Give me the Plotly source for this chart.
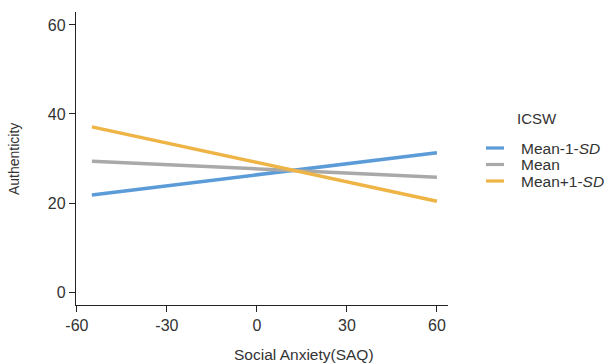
import plotly.graph_objects as go

saq = [-55, 60]
groups = ["Mean-1-<i>SD</i>", "Mean", "Mean+1-<i>SD</i>"]
low_sd = [21.8, 31.3]
mean_vals = [29.4, 25.8]
high_sd = [37.1, 20.4]
colors = ["#5B9BD8", "#A9A9A9", "#EEB446"]
legend_title = "ICSW"

x_ticks = [-60, -30, 0, 30, 60]
y_ticks = [0, 20, 40, 60]

fig = go.Figure()
for name, vals, c in zip(groups, [low_sd, mean_vals, high_sd], colors):
    fig.add_trace(go.Scatter(x=saq, y=vals, mode="lines", name=name, showlegend=False,
                             line=dict(color=c, width=3.5)))

W, H = 607, 363
ml, mr, mt, mb = 76, 159, 12, 58
pw, ph = W - ml - mr, H - mt - mb

def px(xp):
    return (xp - ml) / pw

def py(yp):
    return 1 - (yp - mt) / ph

annotations = [
    dict(text="Social Anxiety(SAQ)", xref="paper", yref="paper",
         x=px(304), y=py(354), xanchor="center", yanchor="middle",
         showarrow=False, font=dict(size=15.5)),
    dict(text="Authenticity", xref="paper", yref="paper",
         x=px(14), y=py(159), textangle=-90, xanchor="center", yanchor="middle",
         showarrow=False, font=dict(size=14)),
    dict(text=legend_title, xref="paper", yref="paper",
         x=px(515), y=py(118), xanchor="left", yanchor="middle",
         showarrow=False, font=dict(size=15)),
]
shapes = []
legend_y = [148, 164.5, 181]
for name, c, yy in zip(groups, colors, legend_y):
    shapes.append(dict(type="line", xref="paper", yref="paper",
                       x0=px(486), x1=px(504), y0=py(yy), y1=py(yy),
                       line=dict(color=c, width=3.2)))
    annotations.append(dict(text=name, xref="paper", yref="paper",
                            x=px(519), y=py(yy), xanchor="left", yanchor="middle",
                            showarrow=False, font=dict(size=15.5)))

fig.update_layout(
    width=W, height=H,
    margin=dict(l=ml, r=mr, t=mt, b=mb),
    paper_bgcolor="white", plot_bgcolor="white",
    font=dict(family="Liberation Sans, Arial, sans-serif", color="#333333", size=15),
    showlegend=False,
    xaxis=dict(range=[-60.3, 63.7], tickvals=x_ticks, ticktext=[str(v) for v in x_ticks],
               showline=True, linecolor="#222222", linewidth=1.3, showgrid=False, zeroline=False,
               ticks="outside", ticklen=6, tickcolor="#222222", tickwidth=1.3,
               tickfont=dict(size=16, color="#333333")),
    yaxis=dict(range=[-2.9, 62.9], tickvals=y_ticks, ticktext=[str(v) for v in y_ticks],
               showline=True, linecolor="#222222", linewidth=1.3, showgrid=False, zeroline=False,
               ticks="outside", ticklen=6, tickcolor="#222222", tickwidth=1.3,
               tickfont=dict(size=16, color="#333333")),
    annotations=annotations,
    shapes=shapes,
)

fig.write_html("out.html", config={"displayModeBar": False},
               post_script="document.body.style.margin='0';document.body.style.overflow='hidden';")
